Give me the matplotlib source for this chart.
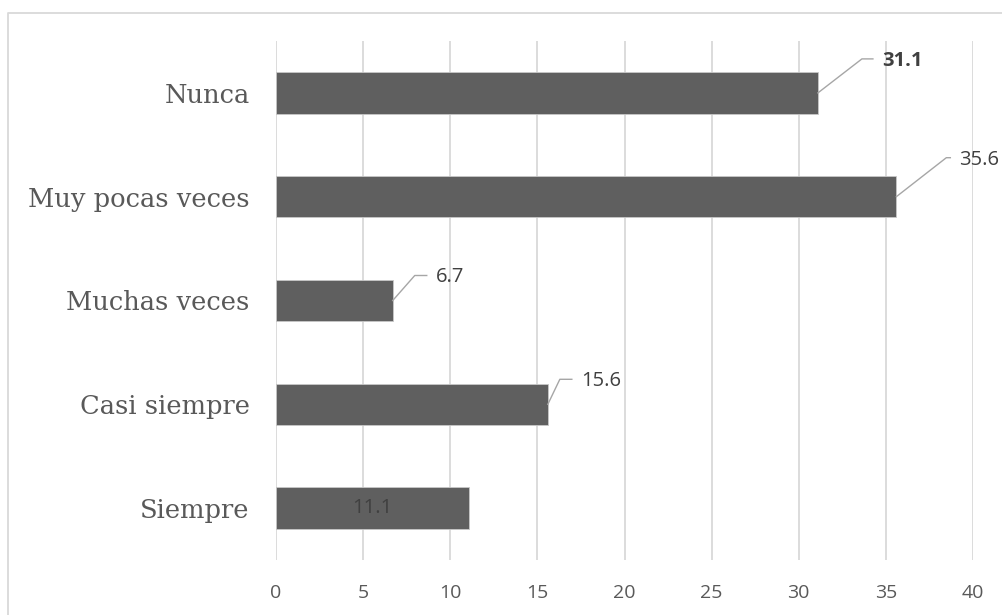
import matplotlib.pyplot as plt
from matplotlib.lines import Line2D
from matplotlib.transforms import offset_copy

# categories bottom to top, as drawn
categories = ["Siempre", "Casi siempre", "Muchas veces", "Muy pocas veces", "Nunca"]
values = [11.1, 15.6, 6.7, 35.6, 31.1]
x_ticks = [0, 5, 10, 15, 20, 25, 30, 35, 40]

# leader offsets in pixels (dx, dy of the elbow, horizontal length); None = inside bar
leaders = [None, (12, 25, 12), (22, 25, 12), (50, 39, 4), (44, 34, 11)]
bold_label = [False, False, False, False, True]

BAR = "#5f5f5f"
GRID = "#d9d9d9"
TXT = "#595959"
LEAD = "#a6a6a6"

W, H = 1002, 615
fig = plt.figure(figsize=(W / 100, H / 100), dpi=100)
ax = fig.add_axes([276 / W, 1 - 560 / H, (973 - 276) / W, (560 - 41) / H])

pos = list(range(len(categories)))
ax.barh(pos, values, height=0.4, color=BAR, edgecolor="#c8c8c8", linewidth=0.6, zorder=3)
ax.set_xlim(0, 40)
ax.set_ylim(-0.5, len(categories) - 0.5)
ax.set_xticks(x_ticks)
ax.set_yticks(pos)
ax.set_yticklabels(categories, family="DejaVu Serif", fontsize=18.5, color=TXT)
ax.set_xticklabels([str(t) for t in x_ticks], family="Open Sans", fontsize=14, color=TXT)
ax.tick_params(axis="y", length=0, pad=19)
ax.tick_params(axis="x", length=0, pad=17)
ax.grid(axis="x", color=GRID, linewidth=1.3, zorder=0)
for s in ax.spines.values():
    s.set_visible(False)

# data labels with leader lines
pt = 0.72  # points per pixel at dpi 100
for i, v in enumerate(values):
    weight = "bold" if bold_label[i] else "normal"
    if leaders[i] is None:
        ax.text(v / 2, i, f"{v:.1f}", ha="center", va="center", fontsize=14.5,
                family="Open Sans", color="#404040", zorder=4)
        continue
    dx, dy, hl = leaders[i]
    # leader line drawn in display pixels from the bar end
    p0 = ax.transData.transform((v, i))
    line_x = [p0[0], p0[0] + dx, p0[0] + dx + hl]
    line_y = [p0[1], p0[1] + dy, p0[1] + dy]
    fig.add_artist(Line2D([x / W for x in line_x], [y / H for y in line_y],
                          transform=fig.transFigure, color=LEAD, linewidth=1.0, zorder=5))
    tr = offset_copy(ax.transData, fig=fig, x=(dx + hl + 9) * pt, y=(dy - 2) * pt, units="points")
    ax.text(v, i, f"{v:.1f}", transform=tr, ha="left", va="center", fontsize=14.5,
            family="Open Sans", fontweight=weight, color="#404040", clip_on=False)

# chart area border (left and top visible)
fig.add_artist(Line2D([8 / W, 8 / W, 1.0], [0.0, 1 - 13 / H, 1 - 13 / H],
                      transform=fig.transFigure, color=GRID, linewidth=1.3))

fig.savefig("out.png", dpi=100)
